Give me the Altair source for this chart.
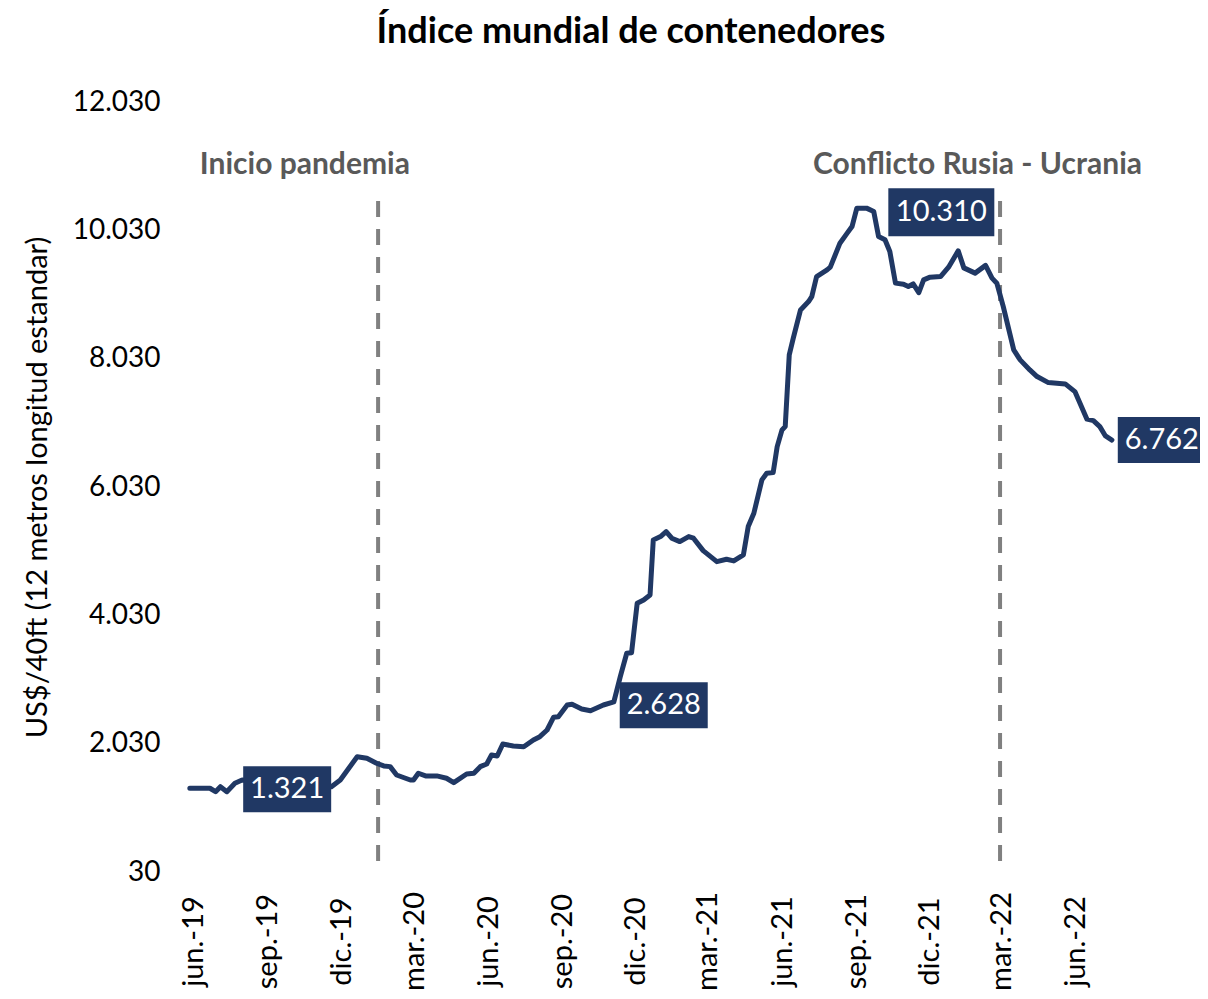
import altair as alt
import pandas as pd

# ---------------- data ----------------
fechas = [
    "2019-05-27", "2019-06-21", "2019-06-28", "2019-07-04", "2019-07-12", "2019-07-22",
    "2019-07-31", "2019-11-19", "2019-11-30", "2019-12-21", "2020-01-02", "2020-01-14",
    "2020-01-23", "2020-01-31", "2020-02-08", "2020-02-25", "2020-02-29", "2020-03-06",
    "2020-03-15", "2020-03-29", "2020-04-10", "2020-04-19", "2020-05-05", "2020-05-14",
    "2020-05-22", "2020-05-30", "2020-06-05", "2020-06-12", "2020-06-19", "2020-07-02",
    "2020-07-15", "2020-07-27", "2020-08-04", "2020-08-13", "2020-08-21", "2020-08-27",
    "2020-09-07", "2020-09-13", "2020-09-25", "2020-10-06", "2020-10-22", "2020-11-04",
    "2020-11-12", "2020-11-20", "2020-11-26", "2020-12-03", "2020-12-11", "2020-12-19",
    "2020-12-23", "2021-01-01", "2021-01-08", "2021-01-15", "2021-01-25", "2021-02-05",
    "2021-02-11", "2021-02-23", "2021-03-12", "2021-03-24", "2021-04-02", "2021-04-14",
    "2021-04-20", "2021-04-27", "2021-05-07", "2021-05-13", "2021-05-21", "2021-05-26",
    "2021-06-01", "2021-06-05", "2021-06-10", "2021-06-15", "2021-06-24", "2021-07-04",
    "2021-07-08", "2021-07-14", "2021-07-27", "2021-07-31", "2021-08-12", "2021-08-21",
    "2021-08-27", "2021-09-02", "2021-09-14", "2021-09-23", "2021-09-29", "2021-10-07",
    "2021-10-13", "2021-10-20", "2021-10-30", "2021-11-05", "2021-11-11", "2021-11-18",
    "2021-11-24", "2021-12-02", "2021-12-15", "2021-12-25", "2022-01-06", "2022-01-13",
    "2022-01-27", "2022-02-09", "2022-02-17", "2022-02-23", "2022-03-03", "2022-03-16",
    "2022-03-24", "2022-04-05", "2022-04-14", "2022-04-28", "2022-05-19", "2022-05-31",
    "2022-06-15", "2022-06-23", "2022-07-01", "2022-07-08", "2022-07-16",
]
valores = [
    1335, 1335, 1282, 1360, 1282, 1413,
    1464, 1360, 1464, 1827, 1803, 1725,
    1683, 1672, 1542, 1464, 1464, 1569,
    1527, 1527, 1491, 1422, 1558, 1569,
    1672, 1714, 1854, 1838, 2025, 1994,
    1983, 2088, 2139, 2243, 2441, 2451,
    2633, 2644, 2571, 2544, 2633, 2680,
    3074, 3439, 3448, 4219, 4270, 4348,
    5205, 5257, 5335, 5232, 5179, 5257,
    5232, 5039, 4867, 4904, 4878, 4971,
    5413, 5621, 6141, 6245, 6254, 6660,
    6920, 6971, 8089, 8349, 8790, 8920,
    8998, 9310, 9414, 9456, 9830, 9986,
    10089, 10376, 10376, 10323, 9933, 9882,
    9700, 9207, 9191, 9154, 9196, 9060,
    9258, 9300, 9310, 9456, 9710, 9445,
    9363, 9484, 9285, 9207, 8842, 8167,
    8011, 7855, 7751, 7657, 7637, 7517,
    7087, 7065, 6971, 6826, 6762,
]

# value labels (boxes)
etiqueta_fechas = ["2019-09-25", "2021-01-05", "2021-12-16", "2022-09-16"]
etiqueta_valores = [1321, 2628, 10310, 6762]

# events
eventos = ["Inicio pandemia", "Conflicto Rusia - Ucrania"]
evento_fechas = ["2020-01-16", "2022-02-27"]
evento_texto_fechas = ["2019-10-17", "2022-01-30"]

# axes
meses = ["ene.", "feb.", "mar.", "abr.", "may.", "jun.", "jul.", "ago.", "sep.", "oct.", "nov.", "dic."]
x_ticks = [(2019, 6), (2019, 9), (2019, 12), (2020, 3), (2020, 6), (2020, 9), (2020, 12),
           (2021, 3), (2021, 6), (2021, 9), (2021, 12), (2022, 3), (2022, 6)]
y_ticks = [30, 2030, 4030, 6030, 8030, 10030, 12030]

# ---------------- chart ----------------
NAVY = "#203864"
GRAY = "#808080"
FONT = "Lato"

serie = pd.DataFrame({"fecha": fechas, "valor": valores})
etiquetas = pd.DataFrame({"fecha": etiqueta_fechas, "valor": etiqueta_valores})
eventos_df = pd.DataFrame({"evento": eventos, "fecha": evento_fechas, "fecha_texto": evento_texto_fechas})

mes_array = "[" + ",".join("'%s'" % m for m in meses) + "]"

x_scale = alt.Scale(
    type="utc",
    domain=[alt.DateTime(year=2019, month=5, date=21, utc=True),
            alt.DateTime(year=2022, month=9, date=20, utc=True)],
)
y_scale = alt.Scale(domain=[30, 12030], nice=False, zero=False)

x_axis = alt.Axis(
    values=[alt.DateTime(year=y, month=m, date=1, utc=True) for y, m in x_ticks],
    labelExpr=mes_array + "[utcmonth(datum.value)] + '-' + utcFormat(datum.value, '%y')",
    labelAngle=270, labelAlign="center", labelBaseline="middle",
    labelPadding=69, ticks=False, tickSize=0, domain=False, grid=False,
    labelFont=FONT, labelFontSize=29, labelColor="#000000", title=None,
    labelOverlap=False, labelFlush=False,
)
y_axis = alt.Axis(
    values=y_ticks,
    labelExpr="replace(format(datum.value, ','), ',', '.')",
    labelPadding=25, ticks=False, tickSize=0, domain=False, grid=False,
    labelFont=FONT, labelFontSize=28, labelColor="#000000",
    title="US$/40ft (12 metros longitud estandar)",
    titleFont=FONT, titleFontSize=29, titleFontWeight="normal", titleColor="#000000",
    titleAngle=270, titleAlign="center", titleBaseline="middle",
    titleX=-148, titleY=385, labelOverlap=False, labelFlush=False,
)

linea = alt.Chart(serie).mark_line(
    color=NAVY, strokeWidth=5, strokeJoin="round", strokeCap="round"
).encode(
    x=alt.X("fecha:T", scale=x_scale, axis=x_axis),
    y=alt.Y("valor:Q", scale=y_scale, axis=y_axis),
)

reglas = alt.Chart(eventos_df).mark_rule(
    color=GRAY, strokeWidth=4, strokeDash=[16, 12]
).encode(
    x=alt.X("fecha:T", scale=x_scale),
    y=alt.value(99),
    y2=alt.value(770),
)

textos_eventos = alt.Chart(eventos_df).mark_text(
    font=FONT, fontSize=30, fontWeight="bold", color="#595959",
    align="center", baseline="middle",
).encode(
    x=alt.X("fecha_texto:T", scale=x_scale),
    y=alt.value(63),
    text="evento:N",
)

etq = alt.Chart(etiquetas).transform_calculate(
    texto="replace(format(datum.valor, ','), ',', '.')"
)
cajas_cortas = etq.transform_filter("datum.valor < 10000").mark_rect(
    color=NAVY, width=88, height=46, align="center", baseline="middle"
).encode(
    x=alt.X("fecha:T", scale=x_scale),
    y=alt.Y("valor:Q", scale=y_scale),
)
cajas_largas = etq.transform_filter("datum.valor >= 10000").mark_rect(
    color=NAVY, width=106, height=48, align="center", baseline="middle"
).encode(
    x=alt.X("fecha:T", scale=x_scale),
    y=alt.Y("valor:Q", scale=y_scale),
)
textos_cajas = etq.mark_text(
    font=FONT, fontSize=29, color="#ffffff", align="center", baseline="middle"
).encode(
    x=alt.X("fecha:T", scale=x_scale),
    y=alt.Y("valor:Q", scale=y_scale),
    text="texto:N",
)

chart = alt.layer(
    reglas, linea, cajas_cortas, cajas_largas, textos_cajas, textos_eventos
).properties(
    width=980,
    height=770,
    title=alt.TitleParams(
        "Índice mundial de contenedores",
        font=FONT, fontSize=36, fontWeight="bold", color="#000000",
        anchor="middle", dx=-44, offset=37,
    ),
    padding={"left": 177, "top": 94, "right": 35, "bottom": 118},
    autosize=alt.AutoSizeParams(type="none"),
    background="#ffffff",
).configure_view(stroke=None)

chart.save("out.html", embed_options={"renderer": "svg", "actions": False})
